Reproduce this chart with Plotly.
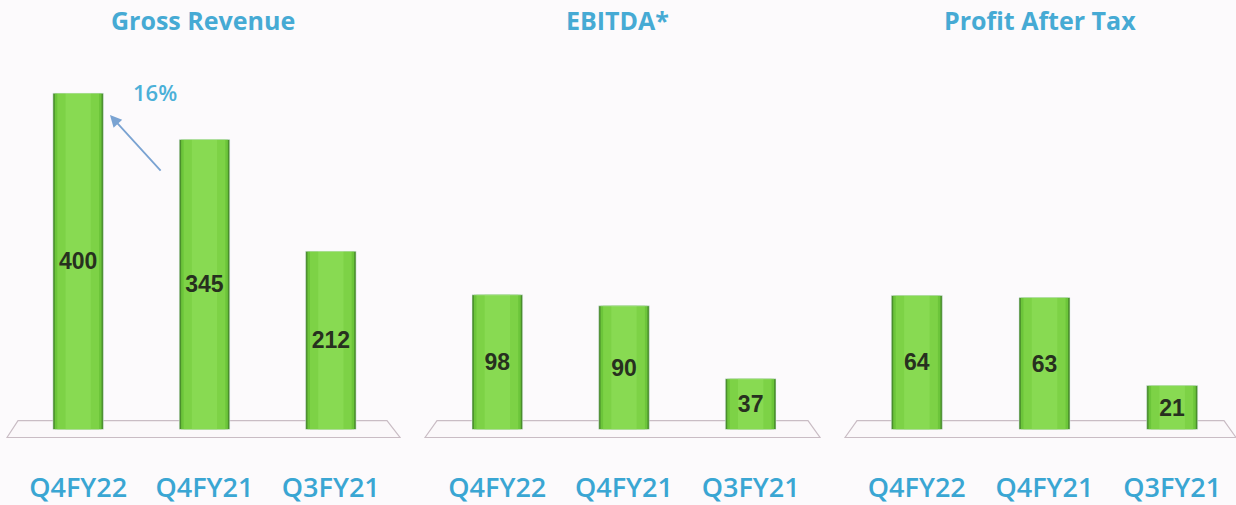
import plotly.graph_objects as go

# quarterly results (Rs crore)
quarters = ["Q4FY22", "Q4FY21", "Q3FY21"]
gross_revenue = [400, 345, 212]
ebitda = [98, 90, 37]
pat = [64, 63, 21]
titles = ["Gross Revenue", "EBITDA*", "Profit After Tax"]
growth_label = "16%"

W, H = 1236, 505


def px(x):
    return x / W


def py(y):
    return (H - y) / H


panels = [
    (gross_revenue, [15, 394], 440),
    (ebitda, [434, 814], 269),
    (pat, [853, 1236], 176.5),
]

# layered bars to fake the cylinder shading (outer edge -> highlight)
layers = [(0.40, "#4A8E2C"), (0.37, "#6CC53A"), (0.33, "#7DD246"), (0.20, "#88DA52")]

fig = go.Figure()
layout = dict(
    width=W, height=H,
    margin=dict(l=0, r=0, t=0, b=0),
    paper_bgcolor="#FCFAFC", plot_bgcolor="rgba(0,0,0,0)",
    barmode="overlay", showlegend=False,
    font=dict(family="Open Sans"),
)

for i, (vals, dom, top) in enumerate(panels):
    xa = "x" if i == 0 else f"x{i+1}"
    ya = "y" if i == 0 else f"y{i+1}"
    for w, c in layers:
        fig.add_trace(go.Bar(x=quarters, y=vals, width=w, marker=dict(color=c, line=dict(width=0)),
                             xaxis=xa, yaxis=ya, hoverinfo="skip"))
    fig.add_trace(go.Bar(x=quarters, y=vals, width=0.4, marker=dict(color="rgba(0,0,0,0)"),
                         text=[str(v) for v in vals], textposition="inside", insidetextanchor="middle",
                         textfont=dict(family="Arial", size=23, color="#27301F", weight="bold"),
                         xaxis=xa, yaxis=ya))
    sfx = "" if i == 0 else str(i + 1)
    layout["xaxis" + sfx] = dict(domain=[px(dom[0]), px(dom[1])], anchor=ya, showgrid=False, zeroline=False,
                                 showline=False, ticks="outside", ticklen=34, tickcolor="rgba(0,0,0,0)",
                                 tickfont=dict(family="Open Sans", size=27, color="#3AA6D3", weight=600),
                                 range=[-0.5, 2.5], fixedrange=True)
    layout["yaxis" + sfx] = dict(domain=[py(433), py(60)], anchor=xa, range=[0, top], visible=False,
                                 fixedrange=True)

fig.update_layout(**layout)

# floor planes under each group of bars
floors = [(7, 18, 387, 400), (425, 437, 808, 820), (845, 857, 1224, 1236)]
for bl, tl, tr, br in floors:
    fig.add_shape(type="path", xref="paper", yref="paper", layer="below",
                  path=f"M {px(bl)},{py(441)} L {px(tl)},{py(424)} L {px(tr)},{py(424)} L {px(br)},{py(441)} Z",
                  line=dict(color="#C9BCC4", width=1.2), fillcolor="rgba(250,246,249,0.6)")

# panel titles
centers = [203, 617, 1040]
for t, cx in zip(titles, centers):
    fig.add_annotation(text=t, x=px(cx), y=py(20), xref="paper", yref="paper", showarrow=False,
                       xanchor="center", yanchor="middle",
                       font=dict(family="Open Sans", size=25, color="#46AAD4", weight="bold"))

# growth arrow between Q4FY21 and Q4FY22 revenue
fig.add_annotation(x=px(110), y=py(116), ax=52, ay=57, xref="paper", yref="paper",
                   axref="pixel", ayref="pixel", text="", showarrow=True, arrowhead=2, arrowsize=1.3,
                   arrowwidth=1.8, arrowcolor="#7AA3D2")
fig.add_annotation(text=growth_label, x=px(155), y=py(93), xref="paper", yref="paper", showarrow=False,
                   xanchor="center", yanchor="middle",
                   font=dict(family="Open Sans", size=22, color="#4BB0D8", weight=600))

fig.write_html("out.html", config={"displayModeBar": False},
               post_script="document.body.style.margin='0';")
